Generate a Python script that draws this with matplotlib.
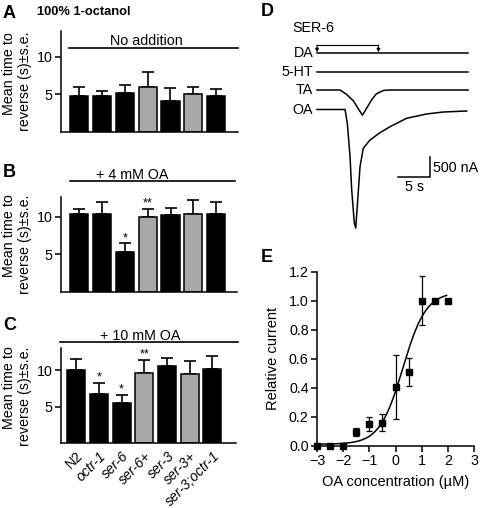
import matplotlib
matplotlib.use('Agg')
import matplotlib.pyplot as plt
import numpy as np

plt.rcParams['font.family'] = ['Liberation Sans', 'DejaVu Sans']
plt.rcParams['axes.linewidth'] = 1.1

# ---------------- data ----------------
genotypes = ['N2', 'octr-1', 'ser-6', 'ser-6+', 'ser-3', 'ser-3+', 'ser-3;octr-1']
rescue = [False, False, False, True, False, True, False]

a_mean = [4.8, 4.75, 5.2, 6.0, 4.1, 5.0, 4.8]
a_err = [1.1, 0.65, 1.0, 2.0, 1.7, 1.0, 0.95]
b_mean = [10.4, 10.35, 5.25, 10.0, 10.2, 10.4, 10.3]
b_err = [0.6, 1.55, 1.2, 1.05, 0.9, 1.8, 1.6]
c_mean = [10.0, 6.7, 5.55, 9.55, 10.5, 9.45, 10.15]
c_err = [1.5, 1.6, 1.05, 1.85, 1.2, 1.85, 1.75]
b_sig = ['', '', '*', '**', '', '', '']
c_sig = ['', '*', '*', '**', '', '', '']

# panel D traces (time s, current nA relative to baseline)
trace_names = ['DA', '5-HT', 'TA', 'OA']
t_da = [0, 23.6]
i_da = [0, 0]
t_5ht = [0, 23.6]
i_5ht = [0, 0]
t_ta = [0, 3.6, 4.6, 5.7, 6.5, 7.1, 7.8, 8.6, 9.3, 10.4, 11.4, 23.6]
i_ta = [0, 0, -105, -265, -470, -610, -430, -225, -90, -10, 0, 0]
t_oa = [0, 4.38, 4.73, 5.16, 5.42, 5.83, 6.05, 6.36, 6.72, 7.23, 8.28, 9.84,
        11.4, 14.0, 17.1, 19.7, 23.4]
i_oa = [0, 0, -328, -1147, -1956, -2758, -2880, -2199, -1390, -943, -741,
        -564, -418, -214, -109, -61, -36]
ser6_window = [0, 9.6]
scale_t, scale_i = 5, 500

# panel E
oa_logc = [-3, -2.5, -2, -1.5, -1, -0.5, 0, 0.5, 1, 1.5, 2]
rel_current = [0.0, 0.0, 0.0, 0.095, 0.15, 0.16, 0.405, 0.51, 1.0, 1.0, 1.0]
rel_err = [0, 0, 0, 0.03, 0.046, 0.062, 0.222, 0.096, 0.17, 0, 0]
hill_bottom, hill_top, hill_x50, hill_n = 0.01, 1.06, 0.28, 0.98

# ---------------- layout helpers ----------------
W, H = 480, 508
fig = plt.figure(figsize=(W / 100, H / 100), dpi=100)


def rect(l, t, r, b):
    return [l / W, 1 - b / H, (r - l) / W, (b - t) / H]


def ftext(x, y, s, **kw):
    fig.text(x / W, 1 - y / H, s, **kw)


FS = 10.3


def bar_panel(r, means, errs, ymax, xlim, sig=None, xlabels=False):
    ax = fig.add_axes(r)
    x = np.arange(len(genotypes))
    colors = ['#a8a8a8' if g else 'black' for g in rescue]
    ax.bar(x, means, width=0.8, color=colors, edgecolor='black', linewidth=1.1, zorder=2)
    ax.errorbar(x, means, yerr=[np.zeros(len(x)), errs], fmt='none', ecolor='black',
                elinewidth=1.2, capsize=4, capthick=1.2, zorder=1)
    if sig:
        for xi, m, e, s in zip(x, means, errs, sig):
            if s:
                ax.annotate(s, (xi, m + e), xytext=(0, 1.5), textcoords='offset points',
                            ha='center', va='baseline', fontsize=9)
    ax.set_xlim(*xlim)
    ax.set_ylim(0, ymax)
    ax.set_yticks([5, 10])
    ax.tick_params(axis='y', labelsize=FS, length=4, width=1.1, pad=2)
    for s in ['top', 'right']:
        ax.spines[s].set_visible(False)
    if xlabels:
        ax.set_xticks(x)
        ax.set_xticklabels(genotypes, rotation=45, ha='right', va='top',
                           rotation_mode='anchor', fontsize=10)
        for lab, g in zip(ax.get_xticklabels(), genotypes):
            if g != 'N2':
                lab.set_style('italic')
        ax.tick_params(axis='x', length=0, pad=4)
    else:
        ax.set_xticks([])
    ax.text(-0.25, 0.5, 'Mean time to\nreverse (s)±s.e.', transform=ax.transAxes,
            rotation=90, ha='center', va='center', fontsize=FS, multialignment='right')
    return ax


axA = bar_panel(rect(61, 31, 238, 131.9), a_mean, a_err, 13.4, (-0.8, 6.96))
axB = bar_panel(rect(61, 196.7, 236.7, 291.9), b_mean, b_err, 12.66, (-0.8, 6.9), sig=b_sig)
axC = bar_panel(rect(61, 348.3, 236, 443.4), c_mean, c_err, 12.97, (-0.67, 7.04), sig=c_sig,
                xlabels=True)

# condition lines
axA.plot([0.045, 1.0], [0.829, 0.829], transform=axA.transAxes, color='black', lw=1.2, clip_on=False)
axA.text(0.48, 0.90, 'No addition', transform=axA.transAxes, ha='center', va='center', fontsize=FS)
axB.plot([0.051, 0.99], [1.165, 1.165], transform=axB.transAxes, color='black', lw=1.2, clip_on=False)
axB.text(0.407, 1.228, '+ 4 mM OA', transform=axB.transAxes, ha='center', va='center', fontsize=FS)
axC.plot([-0.006, 1.01], [1.069, 1.069], transform=axC.transAxes, color='black', lw=1.2, clip_on=False)
axC.text(0.451, 1.125, '+ 10 mM OA', transform=axC.transAxes, ha='center', va='center', fontsize=FS)

ftext(3, 13, 'A', fontsize=13, fontweight='bold', va='center', ha='left')
ftext(37, 12, '100% 1-octanol', fontsize=9.3, fontweight='bold', va='center', ha='left')
ftext(3, 172, 'B', fontsize=13, fontweight='bold', va='center', ha='left')
ftext(3, 325, 'C', fontsize=13, fontweight='bold', va='center', ha='left')

# ---------------- panel D ----------------
axD = fig.add_axes(rect(300, 20, 480, 240))
axD.set_xlim(-2.66, 25.47)
axD.set_ylim(-3171, 2175)
axD.axis('off')
offsets = [1366, 919, 474, 0]
traces = [(t_da, i_da), (t_5ht, i_5ht), (t_ta, i_ta), (t_oa, i_oa)]
for name, off, (tt, ii) in zip(trace_names, offsets, traces):
    axD.plot(tt, np.array(ii) + off, color='black', lw=1.1)
    axD.text(-0.6, off, name, ha='right', va='center', fontsize=10.3)
y_br = offsets[0] + 200
axD.plot(ser6_window, [y_br, y_br], color='black', lw=0.8)
for tx in ser6_window:
    axD.annotate('', xy=(tx, offsets[0] + 25), xytext=(tx, y_br),
                 arrowprops=dict(arrowstyle='-|>', lw=0.8, color='black', mutation_scale=5,
                                 shrinkA=0, shrinkB=0))
sb_t0, sb_i0 = 12.7, -1648
axD.plot([sb_t0, sb_t0 + scale_t, sb_t0 + scale_t], [sb_i0, sb_i0, sb_i0 + scale_i],
         color='black', lw=1.1)
axD.text(sb_t0 + scale_t + 0.35, sb_i0 + 0.45 * scale_i, f'{scale_i} nA', ha='left', va='center', fontsize=10.3)
axD.text(sb_t0 + scale_t / 2, sb_i0 - 230, f'{scale_t} s', ha='center', va='center', fontsize=10.3)
ftext(292.3, 28, 'SER-6', fontsize=10.3, va='center', ha='left')
ftext(261, 12, 'D', fontsize=13, fontweight='bold', va='center', ha='left')

# ---------------- panel E ----------------
axE = fig.add_axes(rect(317, 271.7, 474, 445.7))
xc = np.linspace(-3, 1.95, 200)
fit = hill_bottom + (hill_top - hill_bottom) / (1 + 10 ** ((hill_x50 - xc) * hill_n))
axE.plot(xc, fit, color='black', lw=1.1, clip_on=False)
axE.errorbar(oa_logc, rel_current, yerr=rel_err, fmt='s', color='black', ms=4.5,
             elinewidth=0.9, capsize=2.5, capthick=0.9, clip_on=False, zorder=3)
axE.set_xlim(-3, 3)
axE.set_ylim(0, 1.2)
axE.set_xticks(range(-3, 4))
axE.set_xticklabels(['\u22123', '\u22122', '\u22121', '0', '1', '2', '3'])
axE.set_yticks(np.arange(0, 1.21, 0.2))
axE.set_yticklabels([f'{v:.1f}' for v in np.arange(0, 1.21, 0.2)])
axE.tick_params(labelsize=10.3, length=4, width=1.1, pad=2)
for s in ['top', 'right']:
    axE.spines[s].set_visible(False)
axE.set_xlabel('OA concentration (\u00b5M)', fontsize=10.5, labelpad=5)
axE.set_ylabel('Relative current', fontsize=10.5, labelpad=6)
ftext(261, 258, 'E', fontsize=13, fontweight='bold', va='center', ha='left')

fig.savefig('out.png', dpi=100)
